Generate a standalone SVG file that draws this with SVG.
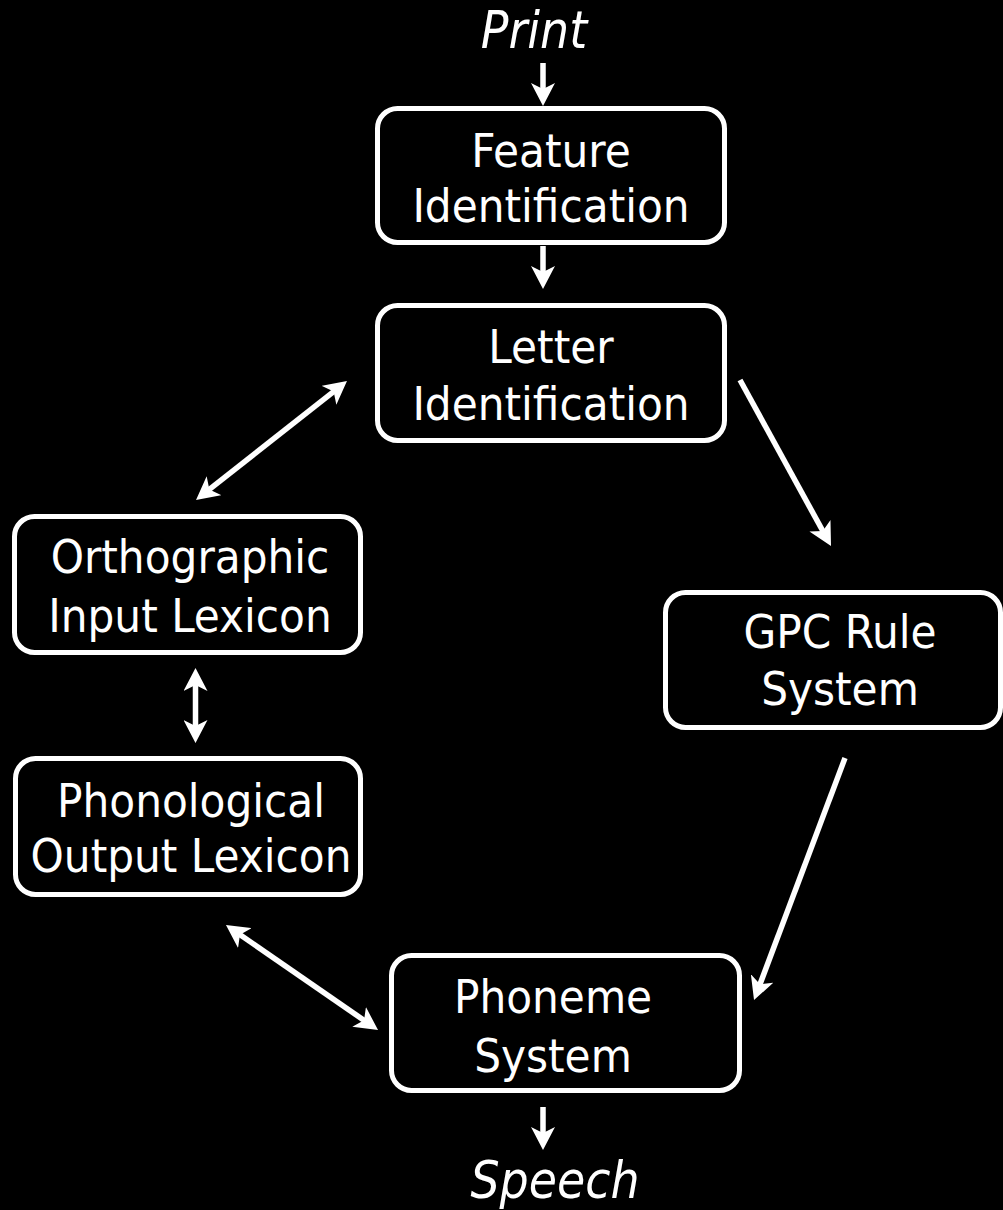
<svg xmlns="http://www.w3.org/2000/svg" width="1003" height="1210" viewBox="0 0 1003 1210">
  <style>
    .box { fill: #000; stroke: #fff; stroke-width: 5; }
    .lbl { fill: #fff; font-family: 'DejaVu Sans Condensed', 'DejaVu Sans', sans-serif; font-stretch: condensed; font-size: 47px; text-anchor: middle; }
    .it { font-style: italic; font-size: 51px; }
    .con { stroke: #fff; stroke-width: 5.5; fill: none; }
    .one { marker-end: url(#ah); }
    .two { marker-start: url(#ah); marker-end: url(#ah); }
  </style>
  <defs>
    <marker id="ah" markerUnits="userSpaceOnUse" viewBox="0 -12 24 24" markerWidth="24" markerHeight="24" refX="8" refY="0" orient="auto-start-reverse">
      <path d="M0,-12 L23,0 L0,12 L6,0 Z" fill="#fff"/>
    </marker>
  </defs>
  <rect width="1003" height="1210" fill="#000"/>

  <g id="print"><text class="lbl it" x="534" y="48">Print</text></g>
  <g id="feature">
    <rect class="box" x="377.5" y="108.5" width="347" height="134" rx="20"/>
    <text class="lbl" x="551" y="167">Feature</text>
    <text class="lbl" x="551" y="222">Identification</text>
  </g>
  <g id="letter">
    <rect class="box" x="377.5" y="305.5" width="347" height="135" rx="20"/>
    <text class="lbl" x="551" y="363">Letter</text>
    <text class="lbl" x="551" y="420">Identification</text>
  </g>
  <g id="ortho">
    <rect class="box" x="14.5" y="516.5" width="346" height="136" rx="20"/>
    <text class="lbl" x="190" y="573">Orthographic</text>
    <text class="lbl" x="190" y="632">Input Lexicon</text>
  </g>
  <g id="gpc">
    <rect class="box" x="665.5" y="592.5" width="335" height="135" rx="20"/>
    <text class="lbl" x="840" y="648">GPC Rule</text>
    <text class="lbl" x="840" y="705">System</text>
  </g>
  <g id="phono">
    <rect class="box" x="15.5" y="758.5" width="345" height="136" rx="20"/>
    <text class="lbl" x="191" y="817">Phonological</text>
    <text class="lbl" x="191" y="872">Output Lexicon</text>
  </g>
  <g id="phoneme">
    <rect class="box" x="391.5" y="955.5" width="348" height="135" rx="20"/>
    <text class="lbl" x="553" y="1013">Phoneme</text>
    <text class="lbl" x="553" y="1072">System</text>
  </g>
  <g id="speech"><text class="lbl it" x="555" y="1198">Speech</text></g>

  <g id="connectors">
    <line class="con one" x1="543" y1="63" x2="543" y2="91"/>
    <line class="con one" x1="543" y1="246" x2="543" y2="274"/>
    <line class="con two" x1="207.8" y1="490.7" x2="335.2" y2="390.3"/>
    <line class="con one" x1="740" y1="380" x2="823.8" y2="532.8"/>
    <line class="con two" x1="195.5" y1="683" x2="195.5" y2="728"/>
    <line class="con one" x1="845" y1="758" x2="759.3" y2="986"/>
    <line class="con two" x1="238.3" y1="933.5" x2="365.7" y2="1021.5"/>
    <line class="con one" x1="543" y1="1107" x2="543" y2="1135"/>
  </g>
</svg>
